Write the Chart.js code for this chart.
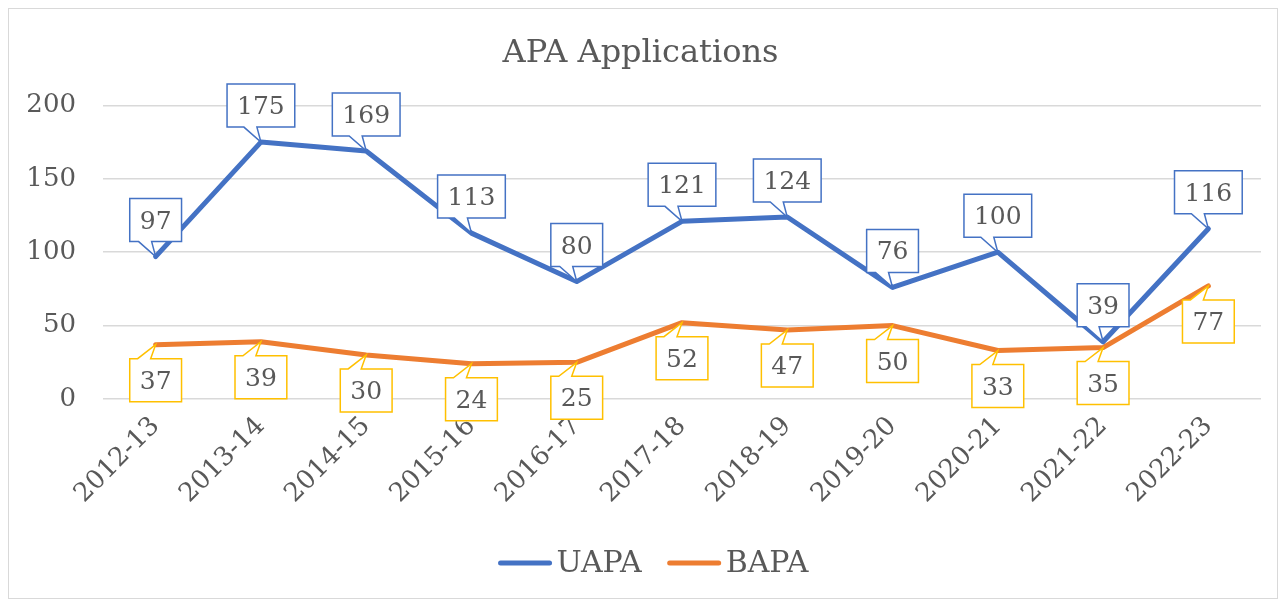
<!DOCTYPE html>
<html>
<head>
<meta charset="utf-8">
<title>APA Applications</title>
<script src="https://cdn.jsdelivr.net/npm/chart.js@4"></script>
<style>
  html, body { margin: 0; padding: 0; background: #fff; }
  #wrap { width: 1286px; height: 600px; }
</style>
</head>
<body>
<div id="wrap"><canvas id="chart" width="1286" height="600"></canvas></div>
<script>
// dati
const anni = ["2012-13", "2013-14", "2014-15", "2015-16", "2016-17", "2017-18",
              "2018-19", "2019-20", "2020-21", "2021-22", "2022-23"];
const uapa = [97, 175, 169, 113, 80, 121, 124, 76, 100, 39, 116];
const bapa = [37, 39, 30, 24, 25, 52, 47, 50, 33, 35, 77];
const yTicks = [0, 50, 100, 150, 200];

const FONT = "'DejaVu Serif', serif";
const GRIGIO = "#595959";

// bordo esterno del grafico
const bordo = {
  id: "bordo",
  beforeDraw(chart) {
    const ctx = chart.ctx;
    ctx.save();
    ctx.fillStyle = "#fff";
    ctx.fillRect(0, 0, chart.width, chart.height);
    ctx.strokeStyle = "#d9d9d9";
    ctx.lineWidth = 1;
    ctx.strokeRect(8.5, 8.5, chart.width - 17, chart.height - 10);
    ctx.restore();
  }
};

// etichette a fumetto
const fumetti = {
  id: "fumetti",
  afterDatasetsDraw(chart) {
    const ctx = chart.ctx;
    ctx.save();
    ctx.font = "25px " + FONT;
    ctx.textAlign = "center";
    ctx.textBaseline = "middle";
    chart.data.datasets.forEach((ds, i) => {
      const meta = chart.getDatasetMeta(i);
      const sopra = i === 0;
      meta.data.forEach((p, j) => {
        const testo = String(ds.data[j]);
        const w = ctx.measureText(testo).width + 20;
        const h = 43;
        const px = p.x, py = p.y;
        const x0 = px - w / 2;
        const y0 = sopra ? py - 15 - h : py + 14;
        ctx.beginPath();
        if (sopra) {
          ctx.moveTo(x0, y0);
          ctx.lineTo(x0 + w, y0);
          ctx.lineTo(x0 + w, y0 + h);
          ctx.lineTo(px - 4, y0 + h);
          ctx.lineTo(px, py);
          ctx.lineTo(px - 17, y0 + h);
          ctx.lineTo(x0, y0 + h);
        } else {
          ctx.moveTo(x0, y0);
          ctx.lineTo(px - 18, y0);
          ctx.lineTo(px, py);
          ctx.lineTo(px - 5, y0);
          ctx.lineTo(x0 + w, y0);
          ctx.lineTo(x0 + w, y0 + h);
          ctx.lineTo(x0, y0 + h);
        }
        ctx.closePath();
        ctx.fillStyle = "#fff";
        ctx.fill();
        ctx.lineWidth = 1.5;
        ctx.strokeStyle = sopra ? "#4472C4" : "#FFC000";
        ctx.stroke();
        ctx.fillStyle = GRIGIO;
        ctx.fillText(testo, px, y0 + h / 2 + 2);
      });
    });
    ctx.restore();
  }
};

// legenda disegnata a mano (linea corta + testo vicino)
const legenda = {
  id: "legenda",
  afterDraw(chart) {
    const ctx = chart.ctx;
    ctx.save();
    ctx.font = "30px " + FONT;
    ctx.textBaseline = "middle";
    const lung = 55, gap = 4, spazio = 25;
    const voci = chart.data.datasets.map(ds => ({
      testo: ds.label, colore: ds.borderColor, w: ctx.measureText(ds.label).width
    }));
    let tot = 0;
    voci.forEach((v, i) => { tot += lung + gap + v.w + (i ? spazio : 0); });
    let x = 653 - tot / 2;
    const y = 563;
    voci.forEach(v => {
      ctx.strokeStyle = v.colore;
      ctx.lineWidth = 5;
      ctx.lineCap = "round";
      ctx.beginPath();
      ctx.moveTo(x + 3, y);
      ctx.lineTo(x + lung - 3, y);
      ctx.stroke();
      ctx.fillStyle = GRIGIO;
      ctx.fillText(v.testo, x + lung + gap, y + 1);
      x += lung + gap + v.w + spazio;
    });
    ctx.restore();
  }
};

new Chart(document.getElementById("chart"), {
  type: "line",
  data: {
    labels: anni,
    datasets: [
      {
        label: "UAPA",
        data: uapa,
        borderColor: "#4472C4",
        backgroundColor: "#4472C4",
        borderWidth: 5,
        pointRadius: 0,
        tension: 0,
        borderCapStyle: "round",
        borderJoinStyle: "round"
      },
      {
        label: "BAPA",
        data: bapa,
        borderColor: "#ED7D31",
        backgroundColor: "#ED7D31",
        borderWidth: 5,
        pointRadius: 0,
        tension: 0,
        borderCapStyle: "round",
        borderJoinStyle: "round"
      }
    ]
  },
  options: {
    responsive: false,
    animation: false,
    layout: { padding: { top: 22, left: 20, right: 25, bottom: 65 } },
    plugins: {
      tooltip: { enabled: false },
      legend: { display: false },
      title: {
        display: true,
        text: "APA Applications",
        color: GRIGIO,
        font: { family: FONT, size: 32, weight: "normal" },
        padding: { top: 12, bottom: 33 }
      }
    },
    scales: {
      x: {
        offset: true,
        grid: { display: false },
        border: { display: false },
        ticks: {
          color: GRIGIO,
          font: { family: FONT, size: 26 },
          minRotation: 45,
          maxRotation: 45,
          padding: 4
        },
        afterFit(s) { s.height = 136; }
      },
      y: {
        min: 0,
        max: 200,
        afterBuildTicks(s) { s.ticks = yTicks.map(v => ({ value: v })); },
        grid: { color: "#d9d9d9", lineWidth: 1.5, drawTicks: false },
        border: { display: false },
        ticks: {
          color: GRIGIO,
          font: { family: FONT, size: 26 },
          padding: 27
        },
        afterFit(s) { s.width = 83; }
      }
    }
  },
  plugins: [bordo, fumetti, legenda]
});
</script>
</body>
</html>
